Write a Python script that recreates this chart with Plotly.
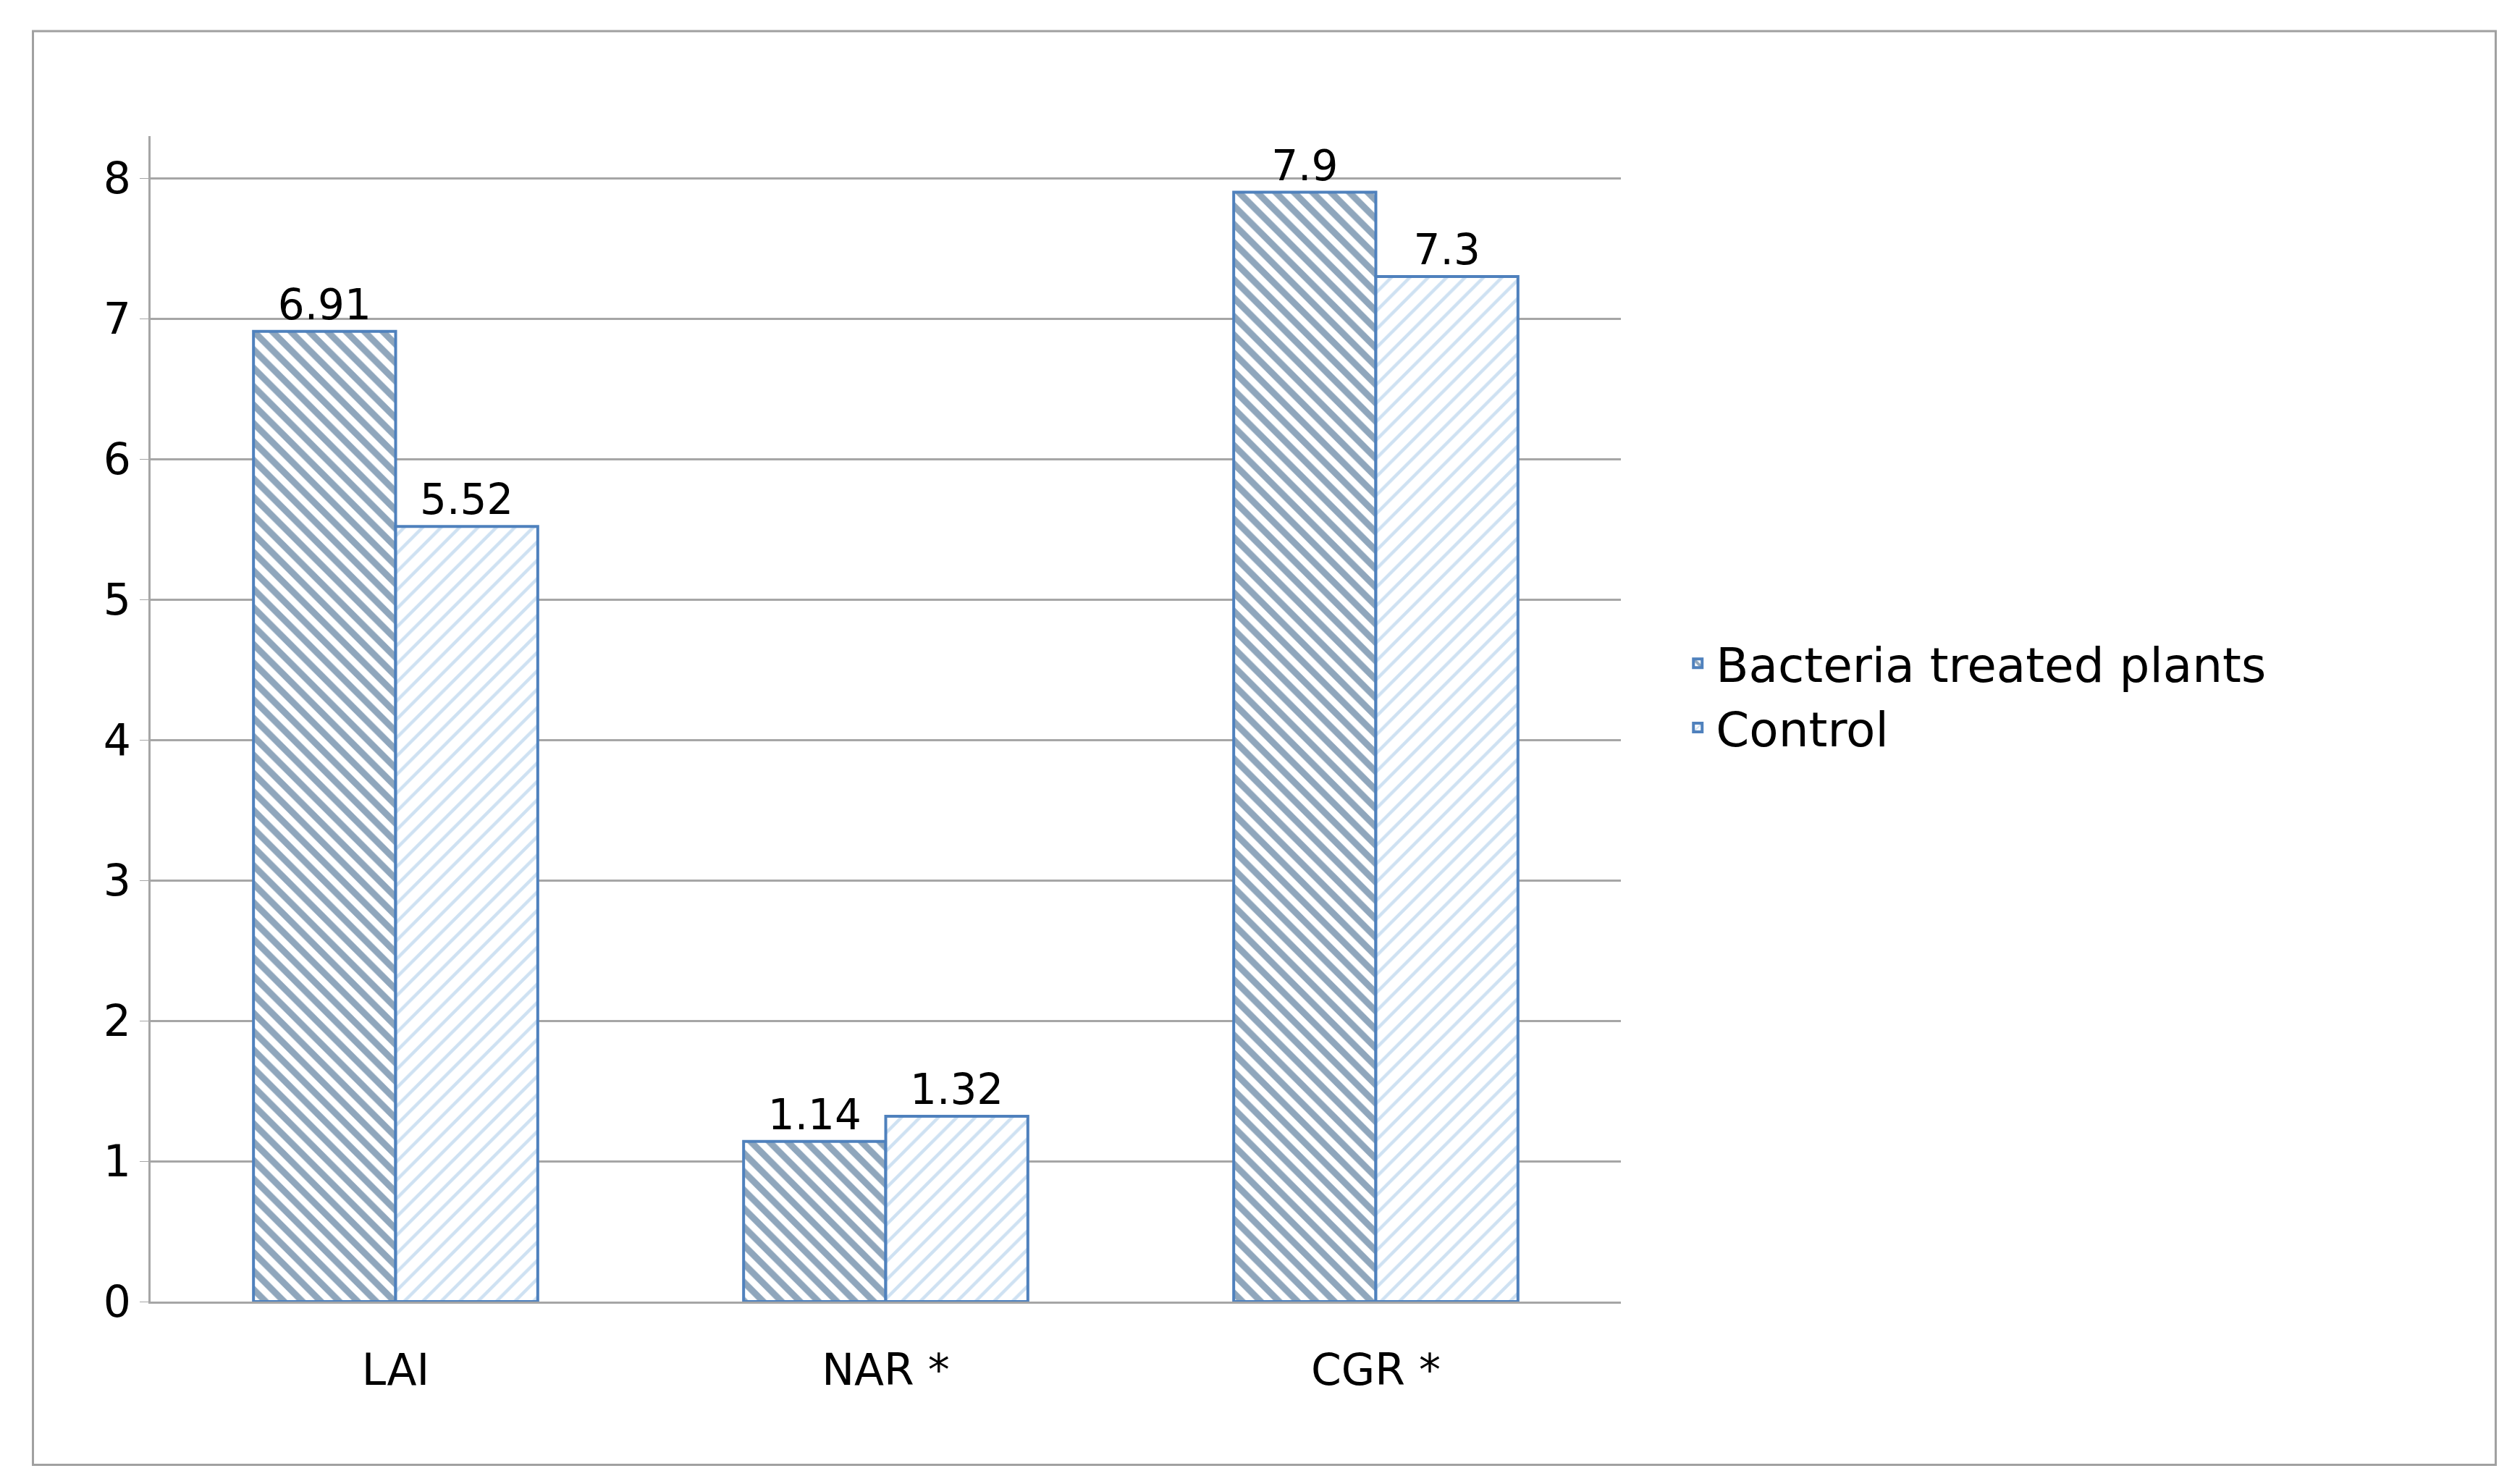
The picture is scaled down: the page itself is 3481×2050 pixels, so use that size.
import plotly.graph_objects as go

categories = ["LAI", "NAR *", "CGR *"]
bacteria = [6.91, 1.14, 7.9]
control = [5.52, 1.32, 7.3]
bacteria_labels = ["6.91", "1.14", "7.9"]
control_labels = ["5.52", "1.32", "7.3"]

fig = go.Figure()
fig.add_trace(go.Bar(
    name="Bacteria treated plants", x=categories, y=bacteria,
    text=bacteria_labels, textposition="outside",
    marker=dict(color="white", line=dict(color="#4F81BD", width=4),
                pattern=dict(shape="\\", fgcolor="#1F4E79", bgcolor="white", size=18, solidity=0.5)),
))
fig.add_trace(go.Bar(
    name="Control", x=categories, y=control,
    text=control_labels, textposition="outside",
    marker=dict(color="white", line=dict(color="#4F81BD", width=4),
                pattern=dict(shape="/", fgcolor="#9DC3E6", bgcolor="white", size=18, solidity=0.25)),
))

fig.update_layout(
    width=3481, height=2050,
    paper_bgcolor="white", plot_bgcolor="white",
    font=dict(family="DejaVu Sans", size=58, color="black"),
    barmode="group", bargap=0.42, bargroupgap=0,
    margin=dict(l=200, r=1250, t=180, b=260),
    showlegend=True,
    legend=dict(x=1.04, y=0.52, xanchor="left", yanchor="middle",
                font=dict(size=66), tracegroupgap=60, itemwidth=40),
    uniformtext=dict(minsize=58, mode="show"),
    shapes=[dict(type="rect", xref="paper", yref="paper", x0=-0.08, x1=1.595, y0=-0.14, y1=1.09,
                 line=dict(color="#A0A0A0", width=3))],
)
fig.update_traces(textfont=dict(size=58, color="black"), cliponaxis=False)
fig.update_yaxes(range=[0, 8.3], dtick=1, showgrid=True, gridcolor="#A6A6A6", gridwidth=3,
                 showline=True, linecolor="#A6A6A6", linewidth=3, ticks="outside",
                 tickcolor="#A6A6A6", ticklen=12, tickfont=dict(size=60), zeroline=False)
fig.update_xaxes(showline=True, linecolor="#A6A6A6", linewidth=3, tickfont=dict(size=60),
                 ticks="", ticklabelstandoff=40)
fig.write_html("out.html")
